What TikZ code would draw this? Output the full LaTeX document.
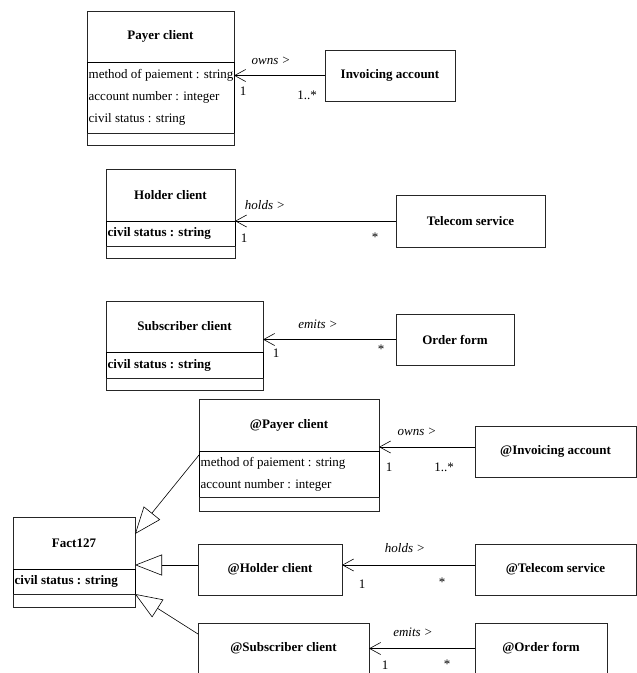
\documentclass[tikz,border=0pt]{standalone}
\usepackage{fontspec}
\setmainfont{Liberation Serif}
\usepackage{tikz}
\usetikzlibrary{arrows.meta, positioning}
\def\dfont{\fontsize{13}{22}\selectfont}
\tikzset{
  classname/.style={draw=black!85, line width=0.6pt, inner sep=0pt, outer sep=0pt, font=\dfont\bfseries},
  attrbox/.style={draw=black, line width=0.9pt, inner sep=0pt, outer sep=0pt, anchor=north west},
  footbox/.style={draw=black!85, line width=0.6pt, inner sep=0pt, outer sep=0pt, anchor=north west},
  attrtext/.style={anchor=west, align=left, inner sep=1.5pt, font=\dfont},
  attrbold/.style={attrtext, font=\dfont\bfseries},
  assoc/.style={line width=0.6pt, -{Straight Barb[length=11pt, width=12pt]}},
  generalize/.style={line width=0.6pt, -{Triangle[length=27pt, width=21pt, fill=white]}},
  rolename/.style={inner sep=0pt, font=\dfont\itshape},
  mult/.style={inner sep=0pt, font=\dfont}
}

\begin{document}
\begin{tikzpicture}[x=1pt, y=-1pt]
\useasboundingbox (0,0) rectangle (637,673);

% Payer client -- Invoicing account
\node[classname, minimum width=147, minimum height=51] (payer) at (160.5, 36.5) {Payer client};
\node[attrbox, minimum width=147, minimum height=71] (payer-attr) at (payer.south west) {};
\node[attrtext] (payer-attrtext) at (payer-attr.west) {method of paiement : string\\account number : integer\\civil status : string};
\node[footbox, minimum width=147, minimum height=12] (payer-foot) at (payer-attr.south west) {};
\node[classname, minimum width=130, minimum height=51] (invoicing) at (390, 75.5) {Invoicing account};
\draw[assoc] (invoicing.west) -- (invoicing.west -| payer-attr.east);
\node[rolename] (payer-role) at (271, 61) {owns >};
\node[mult] (payer-one) at (243, 91) {1};
\node[mult] (invoicing-many) at (307, 95) {1..*};

% Holder client -- Telecom service
\node[classname, minimum width=129, minimum height=52] (holder) at (170.5, 195) {Holder client};
\node[attrbox, minimum width=129, minimum height=25] (holder-attr) at (holder.south west) {};
\node[attrbold] (holder-attrtext) at (holder-attr.west) {civil status : string};
\node[footbox, minimum width=129, minimum height=12] (holder-foot) at (holder-attr.south west) {};
\node[classname, minimum width=149, minimum height=52] (telecom) at (470.5, 221) {Telecom service};
\draw[assoc] (telecom.west) -- (telecom.west -| holder.east);
\node[rolename] (holder-role) at (265, 205) {holds >};
\node[mult] (holder-one) at (244, 238) {1};
\node[mult] (telecom-many) at (375, 237) {*};

% Subscriber client -- Order form
\node[classname, minimum width=157, minimum height=51] (subscriber) at (184.5, 326.5) {Subscriber client};
\node[attrbox, minimum width=157, minimum height=26] (subscriber-attr) at (subscriber.south west) {};
\node[attrbold] (subscriber-attrtext) at (subscriber-attr.west) {civil status : string};
\node[footbox, minimum width=157, minimum height=12] (subscriber-foot) at (subscriber-attr.south west) {};
\node[classname, minimum width=118, minimum height=51] (orderform) at (455, 339.5) {Order form};
\draw[assoc] (orderform.west) -- (orderform.west -| subscriber.east);
\node[rolename] (subscriber-role) at (318, 324) {emits >};
\node[mult] (subscriber-one) at (276, 353) {1};
\node[mult] (orderform-many) at (381, 349) {*};

% Fact127 and its specialisations
\node[classname, minimum width=122, minimum height=52] (fact) at (74, 543) {Fact127};
\node[attrbox, minimum width=122, minimum height=25] (fact-attr) at (fact.south west) {};
\node[attrbold] (fact-attrtext) at (fact-attr.west) {civil status : string};
\node[footbox, minimum width=122, minimum height=13] (fact-foot) at (fact-attr.south west) {};

\node[classname, minimum width=180, minimum height=52] (atpayer) at (289, 425) {@Payer client};
\node[attrbox, minimum width=180, minimum height=46] (atpayer-attr) at (atpayer.south west) {};
\node[attrtext] (atpayer-attrtext) at (atpayer-attr.west) {method of paiement : string\\account number : integer};
\node[footbox, minimum width=180, minimum height=14] (atpayer-foot) at (atpayer-attr.south west) {};
\node[classname, minimum width=161, minimum height=51] (atinvoicing) at (555.5, 451.5) {@Invoicing account};
\draw[assoc] ([yshift=4.5pt]atinvoicing.west) -- ([yshift=4.5pt]atinvoicing.west -| atpayer.east);
\node[rolename] (atpayer-role) at (417, 432) {owns >};
\node[mult] (atpayer-one) at (389, 467) {1};
\node[mult] (atinvoicing-many) at (444, 467) {1..*};

\node[classname, minimum width=144, minimum height=51] (atholder) at (270, 569.5) {@Holder client};
\node[classname, minimum width=161, minimum height=51] (attelecom) at (555.5, 569.5) {@Telecom service};
\draw[assoc] ([yshift=4.5pt]attelecom.west) -- ([yshift=4.5pt]attelecom.west -| atholder.east);
\node[rolename] (atholder-role) at (405, 548) {holds >};
\node[mult] (atholder-one) at (362, 584) {1};
\node[mult] (attelecom-many) at (442, 582) {*};

\node[classname, minimum width=171, minimum height=51] (atsubscriber) at (283.5, 648.5) {@Subscriber client};
\node[classname, minimum width=132, minimum height=51] (atorderform) at (541, 648.5) {@Order form};
\draw[assoc] (atorderform.west) -- (atorderform.west -| atsubscriber.east);
\node[rolename] (atsubscriber-role) at (413, 632) {emits >};
\node[mult] (atsubscriber-one) at (385, 665) {1};
\node[mult] (atorderform-many) at (447, 664) {*};

\draw[generalize] ([yshift=-4pt]atpayer.south west) -- ([yshift=9pt]fact.east);
\draw[generalize] ([yshift=4.5pt]atholder.west) -- ([yshift=4.5pt]atholder.west -| fact.east);
\draw[generalize] ([yshift=-11pt]atsubscriber.north west) -- (fact-attr.south east);
\end{tikzpicture}
\end{document}
